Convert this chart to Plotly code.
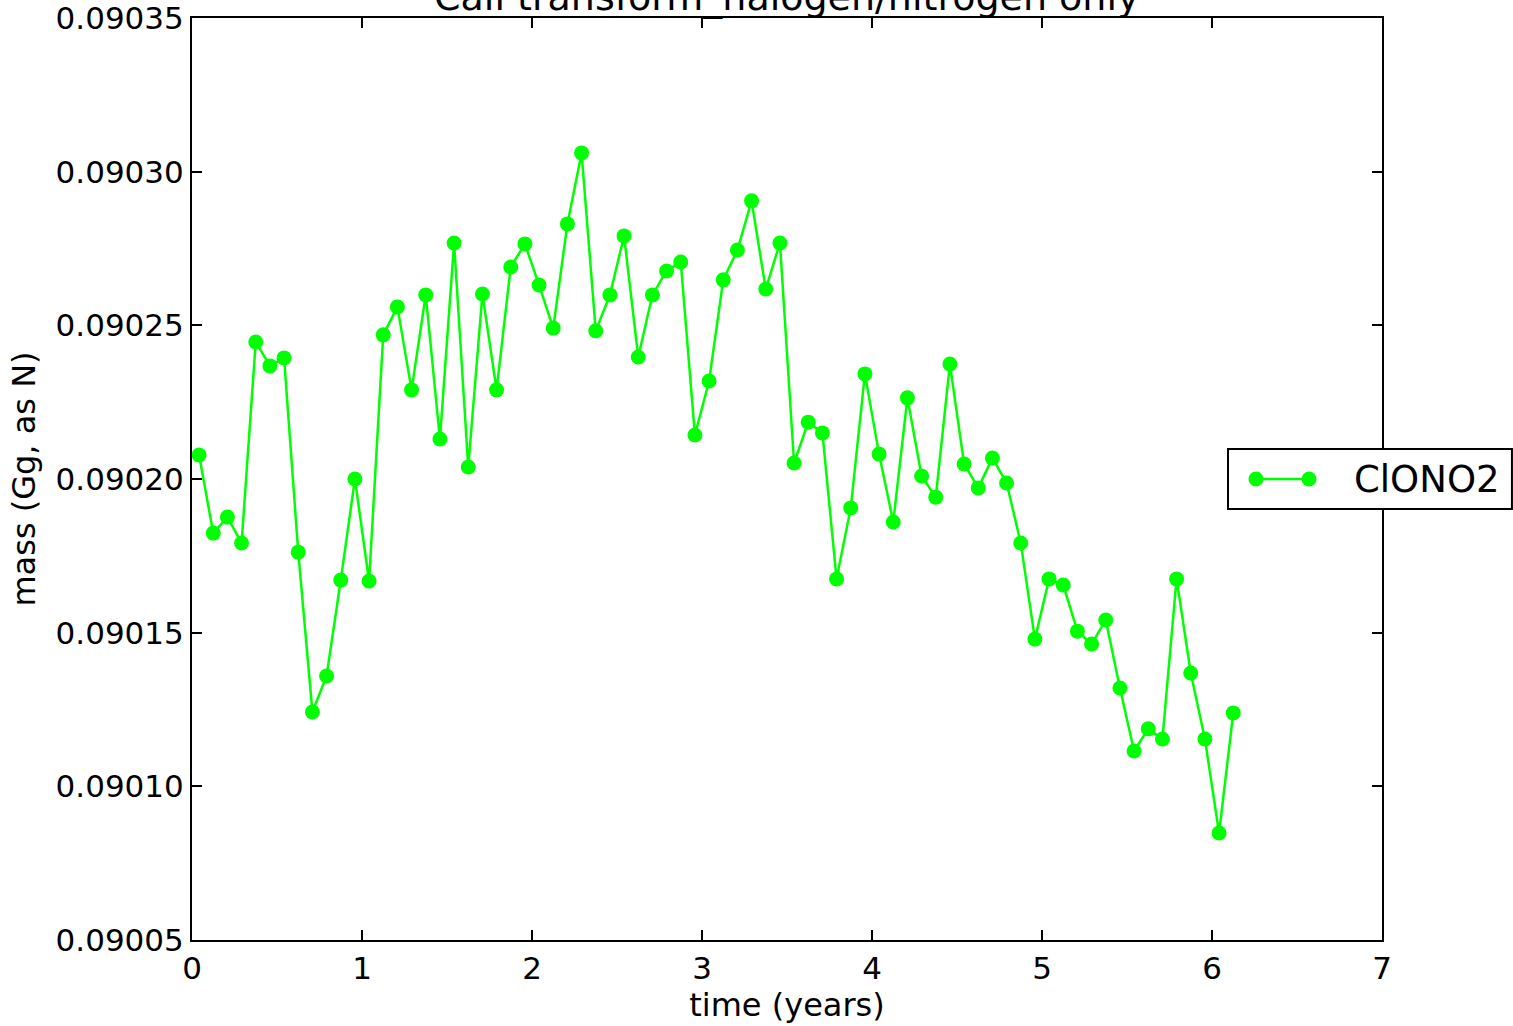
import plotly.graph_objects as go

# Monthly samples (mid-month), time in years
month_index = list(range(74))
time_years = [(i + 0.5) / 12 for i in month_index]

clono2_mass = [
    0.0902078, 0.0901824, 0.0901876, 0.0901792, 0.0902446, 0.0902368, 0.0902394, 0.0901762,
    0.0901242, 0.0901359, 0.0901671, 0.0902000, 0.0901668, 0.0902469, 0.0902560, 0.0902290,
    0.0902599, 0.0902130, 0.0902768, 0.0902039, 0.0902602, 0.0902290, 0.0902690, 0.0902765,
    0.0902631, 0.0902491, 0.0902830, 0.0903061, 0.0902482, 0.0902599, 0.0902791, 0.0902397,
    0.0902599, 0.0902677, 0.0902706, 0.0902143, 0.0902319, 0.0902648, 0.0902745, 0.0902905,
    0.0902618, 0.0902768, 0.0902052, 0.0902185, 0.0902150, 0.0901675, 0.0901906, 0.0902342,
    0.0902081, 0.0901860, 0.0902264, 0.0902010, 0.0901941, 0.0902374, 0.0902049, 0.0901971,
    0.0902068, 0.0901987, 0.0901792, 0.0901479, 0.0901675, 0.0901655, 0.0901505, 0.0901463,
    0.0901541, 0.0901320, 0.0901115, 0.0901187, 0.0901154, 0.0901675, 0.0901369, 0.0901154,
    0.0900848, 0.0901239,
]

series_name = "ClONO2"
title_text = "Call transform_halogen/nitrogen only"
x_label = "time (years)"
y_label = "mass (Gg, as N)"
x_ticks = [0, 1, 2, 3, 4, 5, 6, 7]
y_ticks = [0.09005, 0.09010, 0.09015, 0.09020, 0.09025, 0.09030, 0.09035]

FONT = "DejaVu Sans"
GREEN = "#00ff00"

fig = go.Figure()
fig.add_trace(go.Scatter(
    x=time_years, y=clono2_mass, name=series_name,
    mode="lines+markers",
    line=dict(color=GREEN, width=2.5),
    marker=dict(color=GREEN, size=15, line=dict(width=0)),
    showlegend=False,
))

axis_common = dict(
    showline=True, linecolor="black", linewidth=2, mirror="ticks",
    ticks="inside", ticklen=10, tickwidth=1.5, tickcolor="black",
    showgrid=False, zeroline=False, automargin=False,
    ticklabeloverflow="allow",
    tickfont=dict(family=FONT, size=31, color="black"),
)

# Legend box drawn as layout decoration (matplotlib-style: two markers + line)
lg_y = 0.5
lg_m1, lg_m2 = 0.8941, 0.9387
rx, ry = 7.5 / 1190, 7.5 / 922
shapes = [
    dict(type="rect", xref="paper", yref="paper", x0=0.8706, x1=1.1092, y0=0.4675, y1=0.5325,
         line=dict(color="black", width=2), fillcolor="white", layer="above"),
    dict(type="line", xref="paper", yref="paper", x0=lg_m1, x1=lg_m2, y0=lg_y, y1=lg_y,
         line=dict(color=GREEN, width=2.5), layer="above"),
]
for mx in (lg_m1, lg_m2):
    shapes.append(dict(type="circle", xref="paper", yref="paper",
                       x0=mx - rx, x1=mx + rx, y0=lg_y - ry, y1=lg_y + ry,
                       line=dict(width=0), fillcolor=GREEN, layer="above"))

fig.update_layout(
    width=1513, height=1026,
    margin=dict(l=192, r=131, t=18, b=86),
    paper_bgcolor="white", plot_bgcolor="white",
    font=dict(family=FONT, color="black"),
    showlegend=False,
    xaxis=dict(
        range=[0, 7], tickvals=x_ticks, ticktext=[str(v) for v in x_ticks],
        title=dict(text=x_label, font=dict(family=FONT, size=32), standoff=0),
        **axis_common,
    ),
    yaxis=dict(
        range=[0.09005, 0.0903500001], tickvals=y_ticks,
        ticktext=["%.5f" % v for v in y_ticks],
        title=dict(text=y_label, font=dict(family=FONT, size=32), standoff=10),
        **axis_common,
    ),
    shapes=shapes,
    annotations=[
        dict(text=title_text, x=0.5, y=1, xref="paper", yref="paper",
             xanchor="center", yanchor="bottom", yshift=-3, showarrow=False,
             font=dict(family=FONT, size=38, color="black")),
        dict(text=series_name, x=0.9748, y=lg_y, xref="paper", yref="paper",
             xanchor="left", yanchor="middle", showarrow=False,
             font=dict(family=FONT, size=37, color="black")),
    ],
)

fig.write_html("out.html", config={"displayModeBar": False},
               post_script="document.body.style.margin='0';")
